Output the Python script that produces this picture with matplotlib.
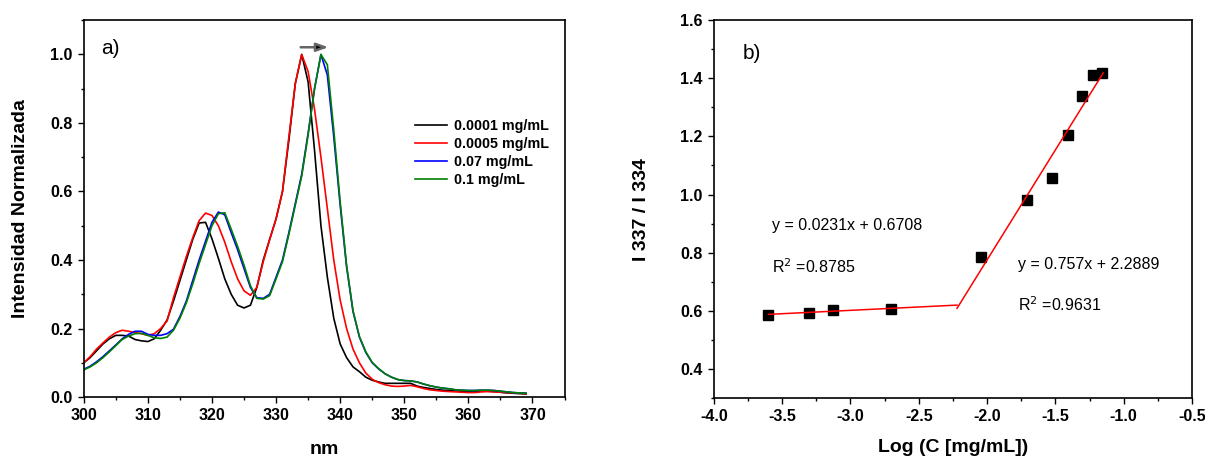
import matplotlib
matplotlib.use("Agg")
import matplotlib.pyplot as plt
from matplotlib.ticker import MultipleLocator, FormatStrFormatter

plt.rcParams["font.family"] = ["Liberation Sans", "DejaVu Sans"]

# ---- a) normalised emission spectra ----
wavelength = list(range(300, 370))
black_0001 = [0.100, 0.115, 0.135, 0.155, 0.170, 0.180, 0.180, 0.178, 0.168, 0.164,
              0.162, 0.170, 0.195, 0.225, 0.280, 0.340, 0.400, 0.460, 0.508, 0.510,
              0.462, 0.405, 0.345, 0.300, 0.268, 0.260, 0.268, 0.320, 0.400, 0.460,
              0.520, 0.600, 0.750, 0.915, 1.000, 0.920, 0.720, 0.500, 0.350, 0.230,
              0.155, 0.115, 0.088, 0.074, 0.058, 0.049, 0.044, 0.040, 0.040, 0.040,
              0.040, 0.040, 0.032, 0.028, 0.025, 0.022, 0.020, 0.019, 0.018, 0.017,
              0.016, 0.016, 0.017, 0.017, 0.016, 0.014, 0.012, 0.011, 0.010, 0.009]
red_0005 = [0.100, 0.118, 0.140, 0.158, 0.175, 0.188, 0.195, 0.192, 0.188, 0.185,
            0.180, 0.185, 0.200, 0.222, 0.290, 0.350, 0.410, 0.465, 0.515, 0.537,
            0.530, 0.500, 0.452, 0.395, 0.345, 0.310, 0.297, 0.320, 0.395, 0.460,
            0.520, 0.600, 0.760, 0.915, 1.000, 0.950, 0.840, 0.700, 0.550, 0.400,
            0.283, 0.200, 0.140, 0.100, 0.070, 0.052, 0.042, 0.036, 0.032, 0.031,
            0.032, 0.034, 0.030, 0.025, 0.021, 0.019, 0.017, 0.016, 0.015, 0.014,
            0.013, 0.013, 0.015, 0.016, 0.015, 0.014, 0.013, 0.012, 0.011, 0.010]
blue_07 = [0.081, 0.090, 0.103, 0.118, 0.135, 0.152, 0.170, 0.183, 0.192, 0.192,
           0.183, 0.180, 0.180, 0.185, 0.198, 0.235, 0.280, 0.340, 0.400, 0.455,
           0.510, 0.540, 0.532, 0.480, 0.430, 0.375, 0.320, 0.290, 0.288, 0.300,
           0.350, 0.400, 0.480, 0.565, 0.650, 0.770, 0.900, 1.000, 0.940, 0.760,
           0.560, 0.380, 0.250, 0.175, 0.130, 0.100, 0.082, 0.068, 0.058, 0.051,
           0.048, 0.047, 0.044, 0.038, 0.033, 0.029, 0.026, 0.024, 0.021, 0.020,
           0.019, 0.019, 0.020, 0.020, 0.019, 0.017, 0.015, 0.013, 0.012, 0.011]
green_1 = [0.079, 0.088, 0.100, 0.115, 0.132, 0.150, 0.168, 0.178, 0.185, 0.186,
           0.180, 0.173, 0.171, 0.175, 0.195, 0.230, 0.275, 0.330, 0.390, 0.445,
           0.500, 0.535, 0.538, 0.490, 0.440, 0.385, 0.325, 0.288, 0.286, 0.296,
           0.345, 0.395, 0.475, 0.560, 0.645, 0.765, 0.900, 1.000, 0.970, 0.780,
           0.570, 0.385, 0.252, 0.177, 0.132, 0.101, 0.083, 0.068, 0.058, 0.051,
           0.048, 0.047, 0.044, 0.038, 0.033, 0.029, 0.026, 0.024, 0.021, 0.020,
           0.019, 0.019, 0.020, 0.020, 0.019, 0.017, 0.015, 0.013, 0.012, 0.011]
spectra = [(black_0001, "black", "0.0001 mg/mL"),
           (red_0005, "#ff0000", "0.0005 mg/mL"),
           (blue_07, "#0000ff", "0.07 mg/mL"),
           (green_1, "#008000", "0.1 mg/mL")]

# ---- b) intensity ratio vs log concentration ----
log_c = [-3.605, -3.306, -3.128, -2.702, -2.047, -1.705, -1.528, -1.406, -1.305, -1.228, -1.161]
ratio = [0.587, 0.593, 0.604, 0.606, 0.784, 0.982, 1.056, 1.204, 1.338, 1.411, 1.417]
fit_low = (0.0231, 0.6708, -3.6, -2.22)   # slope, intercept, x from, x to
fit_high = (0.757, 2.2889, -2.22, -1.15)

fig = plt.figure(figsize=(12.05, 4.59), dpi=100)
ax1 = fig.add_axes([0.0695, 0.135, 0.399, 0.821])
ax2 = fig.add_axes([0.5924, 0.133, 0.3968, 0.823])

for ys, col, lab in spectra:
    ax1.plot(wavelength, ys, color=col, lw=1.2, label=lab)

ax1.set_xlim(300, 375)
ax1.set_ylim(0, 1.1)
ax1.xaxis.set_major_locator(MultipleLocator(10))
ax1.xaxis.set_minor_locator(MultipleLocator(5))
ax1.yaxis.set_major_locator(MultipleLocator(0.2))
ax1.yaxis.set_minor_locator(MultipleLocator(0.1))
ax1.yaxis.set_major_formatter(FormatStrFormatter("%.1f"))
ax1.set_xlabel("nm", fontsize=14, fontweight="bold", labelpad=13)
ax1.set_ylabel("Intensidad Normalizada", fontsize=14, fontweight="bold", labelpad=15)
ax1.text(302.7, 1.017, "a)", fontsize=15, va="center")
ax1.annotate("", xy=(338.6, 1.021), xytext=(333.4, 1.021),
             arrowprops=dict(arrowstyle="-|>,head_length=0.7,head_width=0.25",
                             facecolor="black", edgecolor="#666666", lw=1.8))
leg = ax1.legend(loc="upper left", bbox_to_anchor=(0.688, 0.737), frameon=False,
                 handlelength=2.3, handletextpad=0.45, labelspacing=0.28,
                 borderpad=0, borderaxespad=0, prop={"weight": "bold", "size": 10.3})

ax2.plot(log_c, ratio, "s", color="black", ms=6.5)
for slope, icpt, x0, x1 in (fit_low, fit_high):
    ax2.plot([x0, x1], [slope * x0 + icpt, slope * x1 + icpt], color="#ff0000", lw=1.1)

ax2.set_xlim(-4.0, -0.5)
ax2.set_ylim(0.3, 1.6)
ax2.xaxis.set_major_locator(MultipleLocator(0.5))
ax2.xaxis.set_minor_locator(MultipleLocator(0.25))
ax2.yaxis.set_major_locator(MultipleLocator(0.2))
ax2.yaxis.set_minor_locator(MultipleLocator(0.1))
ax2.xaxis.set_major_formatter(FormatStrFormatter("%.1f"))
ax2.yaxis.set_major_formatter(FormatStrFormatter("%.1f"))
ax2.set_xlabel("Log (C [mg/mL])", fontsize=14, fontweight="bold", labelpad=11)
ax2.set_ylabel("I 337 / I 334", fontsize=14, fontweight="bold", labelpad=22)
ax2.text(-3.79, 1.485, "b)", fontsize=15, va="center")
ax2.text(-3.577, 0.892, "y = 0.0231x + 0.6708", fontsize=11.5, va="center")
ax2.text(-3.577, 0.753, "R$^{2}$ =0.8785", fontsize=11.5, va="center")
ax2.text(-1.776, 0.758, "y = 0.757x + 2.2889", fontsize=11.5, va="center")
ax2.text(-1.776, 0.621, "R$^{2}$ =0.9631", fontsize=11.5, va="center")

for ax in (ax1, ax2):
    ax.tick_params(which="major", direction="out", length=4, width=1, pad=4,
                   labelsize=11.5, top=False, right=False)
    ax.tick_params(which="minor", direction="out", length=2.5, width=1,
                   top=False, right=False)
    for lbl in ax.get_xticklabels() + ax.get_yticklabels():
        lbl.set_fontweight("bold")
    for sp in ax.spines.values():
        sp.set_linewidth(1.2)

fig.savefig("out.png", dpi=100)
